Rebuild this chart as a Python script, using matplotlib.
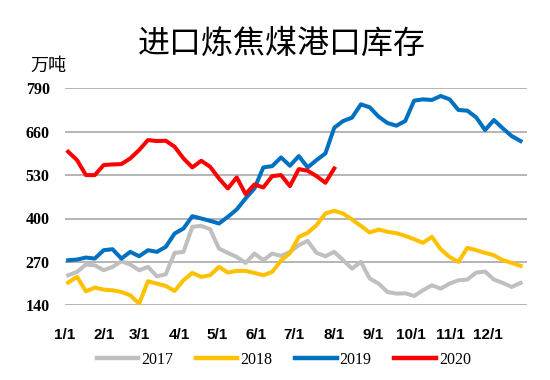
import numpy as np
import matplotlib
matplotlib.use('Agg')
import matplotlib.pyplot as plt

# weekly port stocks of imported coking coal, 10k tonnes
s2017 = [230, 240, 262, 260, 245, 255, 272, 262, 245, 255, 227, 233, 297, 300,
         375, 378, 368, 310, 297, 285, 267, 295, 275, 295, 288, 300, 320, 333,
         297, 287, 300, 275, 250, 270, 220, 205, 180, 175, 176, 168, 185, 200,
         190, 205, 215, 217, 238, 241, 217, 207, 195, 207]
s2018 = [208, 225, 182, 193, 187, 185, 180, 170, 145, 212, 205, 198, 183, 215,
         237, 225, 230, 255, 238, 243, 243, 237, 230, 240, 274, 296, 345, 357,
         380, 415, 423, 415, 397, 378, 358, 367, 360, 356, 348, 338, 327, 345,
         308, 285, 270, 312, 305, 297, 290, 275, 267, 258]
s2019 = [275, 277, 283, 280, 305, 308, 280, 300, 287, 305, 300, 315, 355, 370,
         407, 400, 393, 385, 405, 427, 460, 490, 553, 557, 583, 558, 587, 553,
         575, 595, 672, 692, 702, 742, 733, 705, 686, 678, 692, 753, 757, 755,
         767, 757, 725, 723, 703, 665, 695, 670, 647, 632]
s2020 = [600, 575, 530, 530, 560, 562, 563, 580, 605, 635, 632, 633, 615, 580,
         553, 573, 555, 520, 490, 523, 473, 502, 493, 527, 530, 497, 548, 543,
         527, 507, 550]

years = ['2017', '2018', '2019', '2020']
colors = ['#BFBFBF', '#FFC000', '#0070C0', '#FF0000']
month_days = [0, 31, 59, 90, 120, 151, 181, 212, 243, 273, 304, 334]
month_labels = ['%d/1' % m for m in range(1, 13)]
yticks = [140, 270, 400, 530, 660, 790]

fig = plt.figure(figsize=(5.5, 3.8), dpi=100)
ax = fig.add_axes([65/550, 1 - 305.3/380, (527 - 65)/550, (305.3 - 88.3)/380])

for name, vals, c in zip(years, [s2017, s2018, s2019, s2020], colors):
    days = 2.5 + 7 * np.arange(len(vals))  # weekly dates, day of year
    ax.plot(days, vals, color=c, lw=2.9, label=name, solid_joinstyle='round')

ax.set_xlim(0, 364.6)
ax.set_ylim(140, 790)
ax.set_yticks(yticks)
ax.set_xticks(month_days)
ax.set_xticklabels(month_labels)
ax.yaxis.grid(True, color='#A0A0A0', lw=1.1)
ax.set_axisbelow(True)
for sp in ax.spines.values():
    sp.set_visible(False)
ax.tick_params(length=0)
ax.tick_params(axis='y', pad=11)
ax.tick_params(axis='x', pad=16)
for t in ax.get_yticklabels():
    t.set_fontfamily('Liberation Serif')
    t.set_fontweight('bold')
    t.set_fontsize(11.5)
for t in ax.get_xticklabels():
    t.set_fontfamily('Liberation Sans')
    t.set_fontweight('bold')
    t.set_fontsize(11)

fig.text(0.513, 1 - 44/380, '进口炼焦煤港口库存', ha='center', va='center',
         fontsize=23, fontweight='medium', family=['Noto Sans CJK SC', 'DejaVu Sans'])
fig.text(48/550, 1 - 66/380, '万吨', ha='center', va='center',
         fontsize=13, family=['Noto Sans CJK SC', 'DejaVu Sans'])

leg = fig.legend(loc='center', bbox_to_anchor=(0.516, 1 - 360/380), ncol=4,
                 frameon=False, handlelength=2.6, handletextpad=0.2,
                 columnspacing=1.4, prop={'family': 'Liberation Serif', 'size': 11.5})
for line in leg.get_lines():
    line.set_linewidth(3.2)

fig.savefig('out.png', dpi=100)
